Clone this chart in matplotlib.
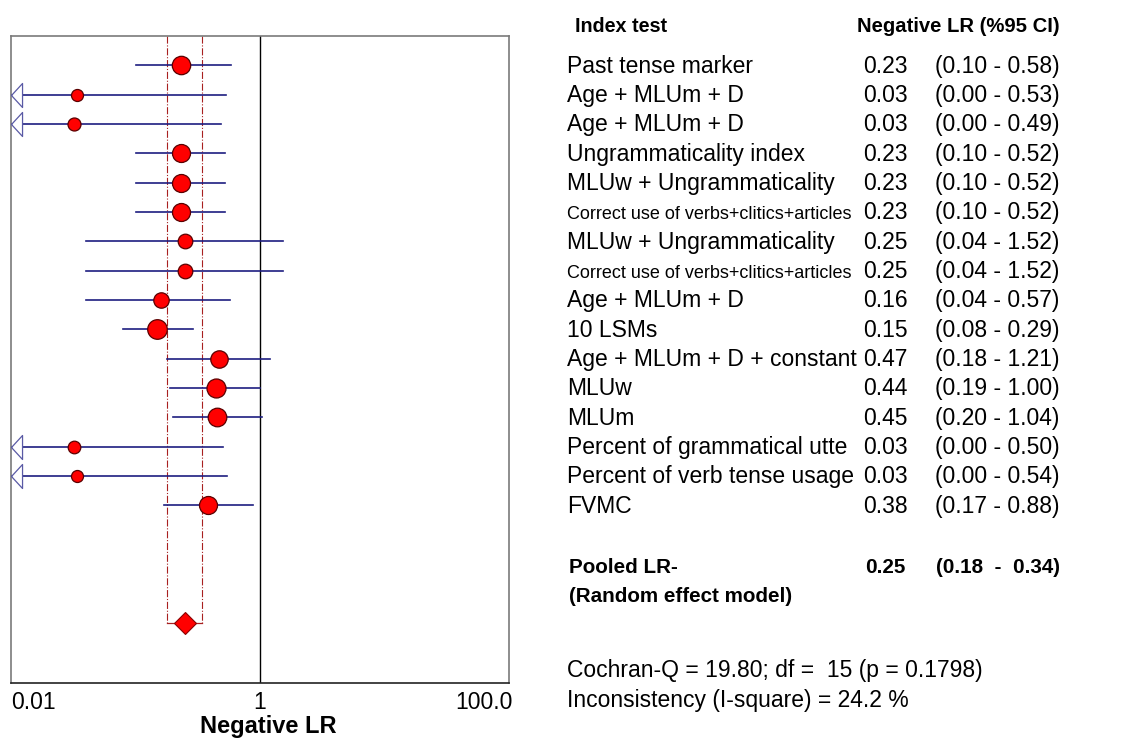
import numpy as np
import matplotlib
matplotlib.use("Agg")
import matplotlib.pyplot as plt
import matplotlib.transforms as mtransforms

plt.rcParams['font.family'] = ['Liberation Sans', 'DejaVu Sans']

# study rows (top to bottom)
labels = ["Past tense marker", "Age + MLUm + D", "Age + MLUm + D",
          "Ungrammaticality index", "MLUw + Ungrammaticality",
          "Correct use of verbs+clitics+articles", "MLUw + Ungrammaticality",
          "Correct use of verbs+clitics+articles", "Age + MLUm + D", "10 LSMs",
          "Age + MLUm + D + constant", "MLUw", "MLUm",
          "Percent of grammatical utte", "Percent of verb tense usage", "FVMC"]
lr = [0.23, 0.034, 0.032, 0.23, 0.23, 0.23, 0.25, 0.25, 0.16, 0.15,
      0.47, 0.44, 0.45, 0.032, 0.034, 0.38]
lower = [0.10, 0.00, 0.00, 0.10, 0.10, 0.10, 0.04, 0.04, 0.04, 0.08,
         0.18, 0.19, 0.20, 0.00, 0.00, 0.17]
upper = [0.58, 0.53, 0.49, 0.52, 0.52, 0.52, 1.52, 1.52, 0.57, 0.29,
         1.21, 1.00, 1.04, 0.50, 0.54, 0.88]

pooled_lr = 0.25
pooled_lo = 0.18
pooled_hi = 0.34

cochran_q = 19.80
df_q = 15
p_q = 0.1798
i_square = 24.2

xticks = [0.01, 1, 100]
xticklabels = ["0.01", "1", "100.0"]

# marker diameters in px (study weight)
marker_px = [18.4, 12, 13, 18, 18, 18, 14.6, 14.6, 15.4, 19.6, 17.4, 19, 18.6, 12.6, 12, 18]

W, H = 1138, 738
fig = plt.figure(figsize=(W / 100, H / 100), dpi=100)
ax = fig.add_axes([11 / W, (H - 683) / H, 498 / W, (683 - 36) / H])
ax.set_xscale('log')
ax.set_xlim(0.01, 100)
pooled_row = len(labels) + 3
ax.set_ylim(21.05, -1.0)

line_col = '#1e1e80'
px2pt = 72 / 100

# pooled CI band (dash-dot box down to the diamond)
for v in (pooled_lo, pooled_hi):
    ax.plot([v, v], [-1.0, pooled_row], color='#a82020', lw=0.8, ls='-.', zorder=1)
ax.plot([pooled_lo, pooled_hi], [pooled_row, pooled_row], color='#a82020', lw=0.9, zorder=1)

ax.axvline(1, color='black', lw=1.0, zorder=1)

arrow_path = [(0, 0), (0.92, 1), (0.92, -1), (0, 0)]
for i in range(len(labels)):
    lo = max(lower[i], 0.01)
    ax.plot([lo, upper[i]], [i, i], color=line_col, lw=1.2, zorder=2)
    if lower[i] < 0.01:
        ax.plot([0.01], [i], marker=arrow_path, markersize=24 * px2pt,
                markerfacecolor='white', markeredgecolor='#5a5aa5',
                markeredgewidth=0.9, clip_on=False, zorder=3)
    ax.plot([lr[i]], [i], marker='o', markersize=marker_px[i] * px2pt,
            markerfacecolor='#ff0000', markeredgecolor='#5a0000',
            markeredgewidth=0.9, zorder=4)

ax.plot([pooled_lr], [pooled_row], marker='D', markersize=15 * px2pt,
        markerfacecolor='#ff0000', markeredgecolor='#8a0000', markeredgewidth=0.8, zorder=4)

ax.set_yticks([])
ax.set_xticks(xticks)
ax.set_xticks([], minor=True)
ax.set_xticklabels(xticklabels, fontsize=16.5)
ax.tick_params(axis='x', length=0, pad=6)
tl = ax.get_xticklabels()
tl[0].set_horizontalalignment('left')
tl[-1].set_horizontalalignment('right')
offset = mtransforms.ScaledTranslation(4 / 100, 0, fig.dpi_scale_trans)
tl[-1].set_transform(tl[-1].get_transform() + offset)

for s in ('left', 'right', 'top'):
    ax.spines[s].set_color('#7a7a7a')
    ax.spines[s].set_linewidth(1.2)
ax.spines['bottom'].set_color('#222222')
ax.spines['bottom'].set_linewidth(1.2)

fig.text(268 / W, 1 - 733 / H, "Negative LR", fontsize=17, fontweight='bold',
         ha='center', va='baseline')

# right-hand table
trans = mtransforms.blended_transform_factory(fig.transFigure, ax.transData)
x_lab, x_val, x_ci = 567 / W, 863 / W, 935 / W
fig.text(575 / W, 1 - 31.7 / H, "Index test", fontsize=14.2, fontweight='bold', va='baseline')
fig.text(1060 / W, 1 - 31.7 / H, "Negative LR (%95 CI)", fontsize=14.6,
         fontweight='bold', va='baseline', ha='right')

for i in range(len(labels)):
    yb = i + 0.25
    fs = 13 if labels[i].startswith("Correct") else 16.5
    fig.text(x_lab, yb, labels[i], fontsize=fs, va='baseline', transform=trans)
    fig.text(x_val, yb, f"{lr[i]:.2f}", fontsize=16.5, va='baseline', transform=trans)
    fig.text(x_ci, yb, f"({lower[i]:.2f} - {upper[i]:.2f})", fontsize=16.5,
             va='baseline', transform=trans)

fig.text(569 / W, 1 - 573.3 / H, "Pooled LR-", fontsize=14.9, fontweight='bold', va='baseline')
fig.text(569 / W, 1 - 601.7 / H, "(Random effect model)", fontsize=14.9, fontweight='bold', va='baseline')
fig.text(865 / W, 1 - 573.3 / H, f"{pooled_lr:.2f}", fontsize=14.9, fontweight='bold', va='baseline')
fig.text(1060 / W, 1 - 573.3 / H, f"({pooled_lo:.2f}  -  {pooled_hi:.2f})", fontsize=14.9,
         fontweight='bold', va='baseline', ha='right')

fig.text(567 / W, 1 - 676.7 / H,
         f"Cochran-Q = {cochran_q:.2f}; df =  {df_q} (p = {p_q:.4f})",
         fontsize=16.5, va='baseline')
fig.text(567 / W, 1 - 706.7 / H, f"Inconsistency (I-square) = {i_square:.1f} %",
         fontsize=16.5, va='baseline')

fig.savefig("out.png", dpi=100)
